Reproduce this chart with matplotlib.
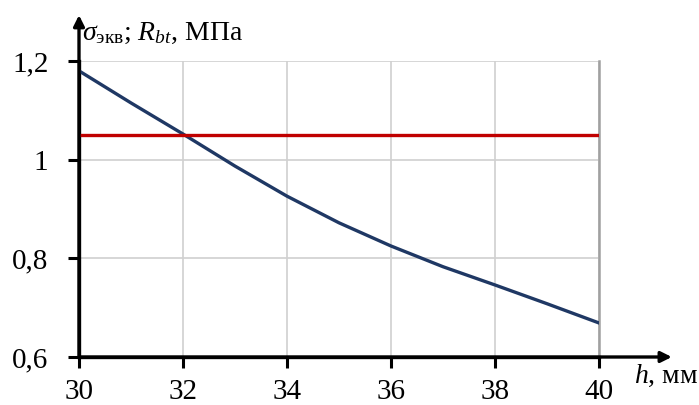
import numpy as np
import matplotlib.pyplot as plt

plt.rcParams['font.family'] = ['Liberation Serif', 'DejaVu Serif']
plt.rcParams['mathtext.fontset'] = 'custom'
plt.rcParams['mathtext.rm'] = 'Liberation Serif'
plt.rcParams['mathtext.it'] = 'Liberation Serif:italic'

# данные
h = [30, 31, 32, 33, 34, 35, 36, 37, 38, 39, 40]
sigma_ekv = [1.18, 1.115, 1.052, 0.987, 0.926, 0.872, 0.825, 0.783, 0.746, 0.708, 0.669]
R_bt = 1.05

x_ticks = [30, 32, 34, 36, 38, 40]
y_ticks = [0.6, 0.8, 1.0, 1.2]
y_labels = ['0,6', '0,8', '1', '1,2']

fig = plt.figure(figsize=(6.99, 4.05), dpi=100)
ax = fig.add_axes([79/699, 48/405, 520/699, 296/405])

ax.plot(h, sigma_ekv, color='#1f3864', lw=2.4, zorder=3)
ax.axhline(R_bt, color='#c00000', lw=2.4, zorder=3)

ax.set_xlim(30, 40)
ax.set_ylim(0.6, 1.2)
ax.set_xticks(x_ticks)
ax.set_yticks(y_ticks)
ax.set_yticklabels(y_labels)
ax.tick_params(labelsize=21, direction='out', length=8, width=2.2)
ax.tick_params(axis='y', pad=14)
ax.tick_params(axis='x', pad=8)
ax.grid(True, color='#d0d0d0', lw=1.2)
ax.set_axisbelow(True)

ax.spines['top'].set_visible(False)
ax.spines['right'].set_color('#a0a0a0')
ax.spines['right'].set_linewidth(1.8)
ax.spines['left'].set_linewidth(2.4)
ax.spines['bottom'].set_linewidth(2.4)

# стрелки осей
ax.annotate('', xy=(0, 1.155), xytext=(0, 0), xycoords='axes fraction',
            arrowprops=dict(arrowstyle='-|>', lw=2.4, color='black',
                            mutation_scale=16, shrinkA=0, shrinkB=0),
            annotation_clip=False)
ax.annotate('', xy=(1.14, 0), xytext=(0, 0), xycoords='axes fraction',
            arrowprops=dict(arrowstyle='-|>', lw=2.4, color='black',
                            mutation_scale=16, shrinkA=0, shrinkB=0),
            annotation_clip=False)

fig.text(82/699, 1 - 33/405, r'$\sigma_{\mathrm{экв}}$; $R_{bt}$, МПа',
         fontsize=20, va='center', ha='left')
fig.text(634/699, 1 - 376/405, r'$h$, мм', fontsize=20, va='center', ha='left')

plt.savefig('out.png', dpi=100)
plt.close()
